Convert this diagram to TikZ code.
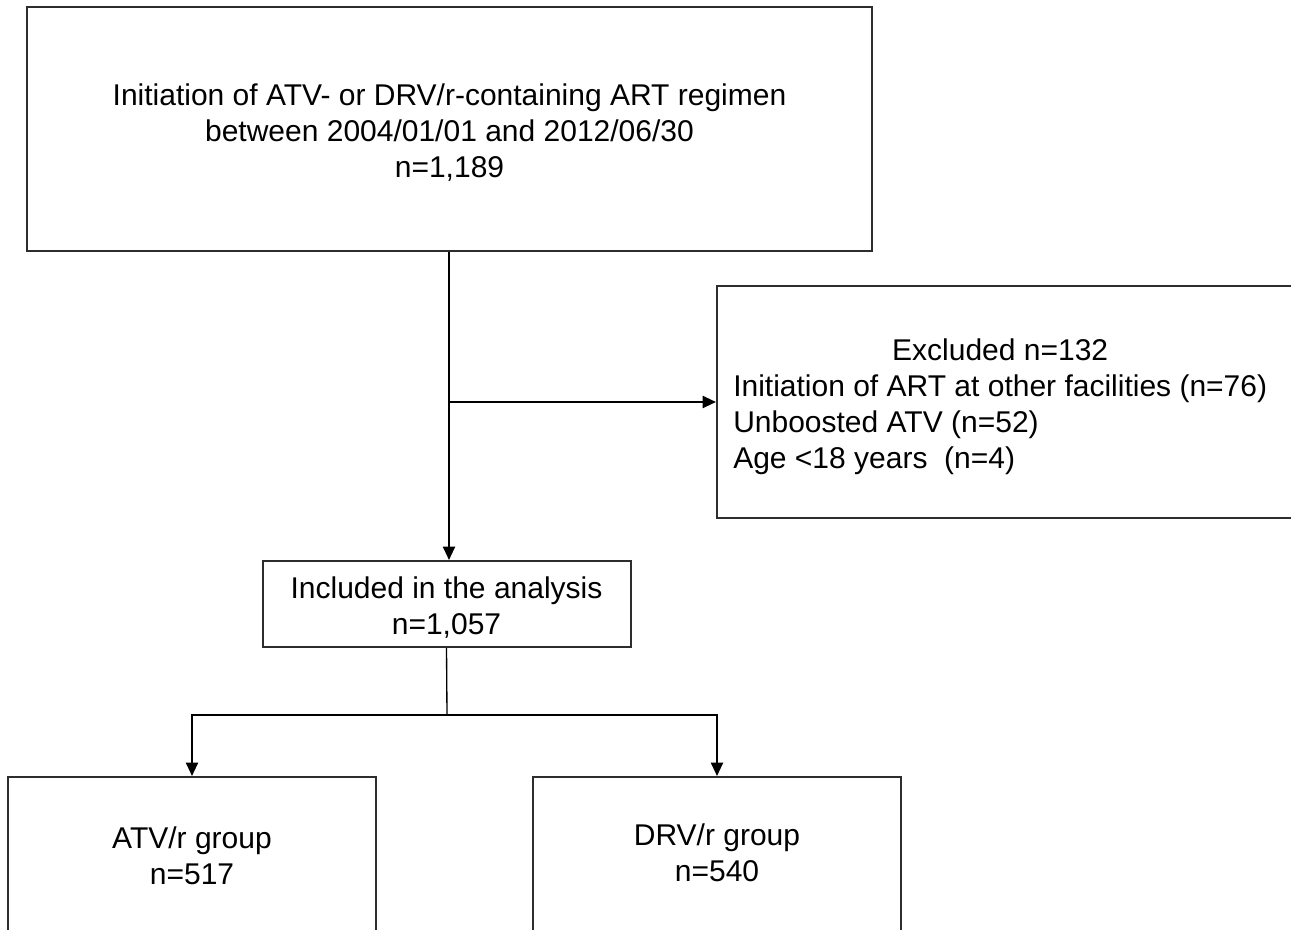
\documentclass[tikz,border=0pt]{standalone}
\usepackage{fontspec}
\setmainfont{Liberation Sans}
\usetikzlibrary{arrows.meta}
\definecolor{edge}{RGB}{45,45,45}
\begin{document}
\begin{tikzpicture}[x=0.75pt,y=-0.75pt,
  box/.style={draw=edge, line width=1.5pt, rectangle, inner sep=0pt},
  txt/.style={inner sep=0pt, align=center, font=\fontsize{22.5}{27}\selectfont},
  arr/.style={line width=1.5pt, -{Triangle[length=10pt,width=9pt]}},
  conn/.style={line width=1pt}]
\useasboundingbox (0,0) rectangle (1291,930);
\clip (0,0) rectangle (1291,930);
% boxes
\node[box, minimum width=845*0.75pt, minimum height=244*0.75pt] (top) at (449,129) {};
\node[box, minimum width=368*0.75pt, minimum height=86*0.75pt] (inc) at (446.5,604) {};
\node[box, anchor=west, minimum width=590*0.75pt, minimum height=232*0.75pt] (exc) at (716,402) {};
\node[box, minimum width=368*0.75pt, minimum height=164*0.75pt] (atv) at (192,859) {};
\node[box, minimum width=368*0.75pt, minimum height=164*0.75pt] (drv) at (717,859) {};
% texts
\node[txt] (toptext) at (449.5,133)
  {Initiation of ATV- or DRV/r-containing ART regimen\\between 2004/01/01 and 2012/06/30\\n=1,189};
\node[txt] (inctext) at (446.5,608) {Included in the analysis\\n=1,057};
\node[txt, anchor=west] (exctext) at (733,407)
  {\begin{tabular}{@{}l@{}}\multicolumn{1}{@{}c@{}}{Excluded n=132}\\
   Initiation of ART at other facilities (n=76)\\
   Unboosted ATV (n=52)\\
   Age <18 years\ \ (n=4)\end{tabular}};
\node[txt] (atvtext) at (192,856) {ATV/r group\\n=517};
\node[txt] (drvtext) at (717,853) {DRV/r group\\n=540};
% connectors
\coordinate (split) at (447,715);
\draw[arr] (top.south) -- (top.south |- inc.north);
\draw[arr] (top.south |- exc.west) -- (exc.west);
\draw[conn] (inc.south) -- (split);
\draw[arr] (split) -| (atv.north);
\draw[arr] (split) -| (drv.north);
\end{tikzpicture}
\end{document}
